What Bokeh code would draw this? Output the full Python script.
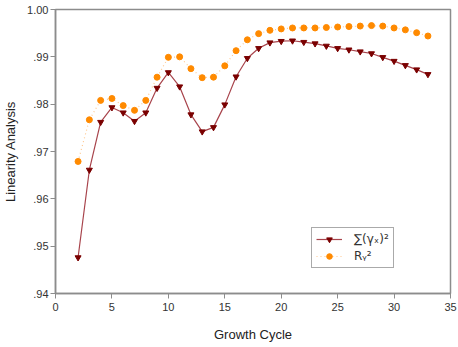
from bokeh.plotting import figure
from bokeh.models import Range1d, FixedTicker, Legend, LegendItem
from bokeh.embed import file_html
from bokeh.resources import INLINE

cycles = list(range(2, 34))
sum_gamma = [0.9476, 0.9661, 0.9762, 0.9793, 0.9782, 0.9764, 0.9782, 0.9834, 0.9867, 0.9837,
             0.9778, 0.9742, 0.9751, 0.9799, 0.9858, 0.9897, 0.9918, 0.9930, 0.9933, 0.9934,
             0.9931, 0.9928, 0.9923, 0.9918, 0.9915, 0.9911, 0.9907, 0.9899, 0.9891, 0.9882,
             0.9873, 0.9863]
r_squared = [0.9679, 0.9767, 0.9808, 0.9812, 0.9797, 0.9787, 0.9808, 0.9857, 0.9899, 0.9900,
             0.9875, 0.9856, 0.9857, 0.9881, 0.9913, 0.9936, 0.9949, 0.9956, 0.9959, 0.9961,
             0.9961, 0.9961, 0.9962, 0.9963, 0.9964, 0.9965, 0.9966, 0.9965, 0.9961, 0.9957,
             0.9951, 0.9944]
x_ticks = [0, 5, 10, 15, 20, 25, 30, 35]
y_ticks = [0.94, 0.95, 0.96, 0.97, 0.98, 0.99, 1.00]
y_tick_labels = [".94", ".95", ".96", ".97", ".98", ".99", "1.00"]
legend_labels = ["\u2211(\u03b3\u2093)\u00b2", "R\u1d67\u00b2"]

FONT = "Liberation Sans"
p = figure(width=458, height=347, output_backend="svg", toolbar_location=None,
           x_range=Range1d(0, 35), y_range=Range1d(0.94, 1.00),
           min_border_left=54, min_border_right=8, min_border_top=9, min_border_bottom=54)
p.background_fill_color = "white"
p.border_fill_color = "white"
p.outline_line_color = "#8c8c8c"
p.outline_line_width = 1.5
p.xgrid.visible = False
p.ygrid.visible = False

p.xaxis.ticker = FixedTicker(ticks=x_ticks)
p.yaxis.ticker = FixedTicker(ticks=y_ticks)
p.yaxis.major_label_overrides = dict(zip(y_ticks, y_tick_labels))
for ax in (p.xaxis[0], p.yaxis[0]):
    ax.axis_line_color = "#8c8c8c"
    ax.axis_line_width = 1.5
    ax.major_tick_line_color = "#8c8c8c"
    ax.major_tick_out = 5
    ax.major_tick_in = 0
    ax.minor_tick_line_color = None
    ax.major_label_text_font = FONT
    ax.major_label_text_font_size = "11px"
    ax.major_label_text_color = "#333333"
    ax.axis_label_text_font = FONT
    ax.axis_label_text_font_size = "13px"
    ax.axis_label_text_font_style = "normal"
    ax.axis_label_text_color = "#222222"
p.xaxis.axis_label = "Growth Cycle"
p.yaxis.axis_label = "Linearity Analysis"
p.xaxis.major_label_standoff = 4
p.xaxis.axis_label_standoff = 13
p.yaxis.major_label_standoff = 2
p.yaxis.axis_label_standoff = 6

l1 = p.line(cycles, sum_gamma, line_color="#a8444c", line_width=1.2)
m1 = p.scatter(cycles, sum_gamma, marker="inverted_triangle", size=6,
               fill_color="#7a0000", line_color="#7a0000")
l2 = p.line(cycles, r_squared, line_color="#ffc890", line_width=1.2, line_dash="1 3")
m2 = p.scatter(cycles, r_squared, marker="circle", size=6,
               fill_color="#ff8a00", line_color="#ff8a00")

legend = Legend(items=[LegendItem(label=legend_labels[0], renderers=[l1, m1]),
                       LegendItem(label=legend_labels[1], renderers=[l2, m2])],
                location=(256, 25), orientation="vertical",
                border_line_color="#555555", border_line_width=1,
                background_fill_color="white", background_fill_alpha=1,
                label_text_font="DejaVu Sans", label_text_font_size="12px",
                label_text_color="#333333",
                glyph_width=26, glyph_height=14, spacing=3, padding=4, margin=0,
                label_standoff=12)
p.add_layout(legend)

open("out.html", "w").write(file_html(p, INLINE))
